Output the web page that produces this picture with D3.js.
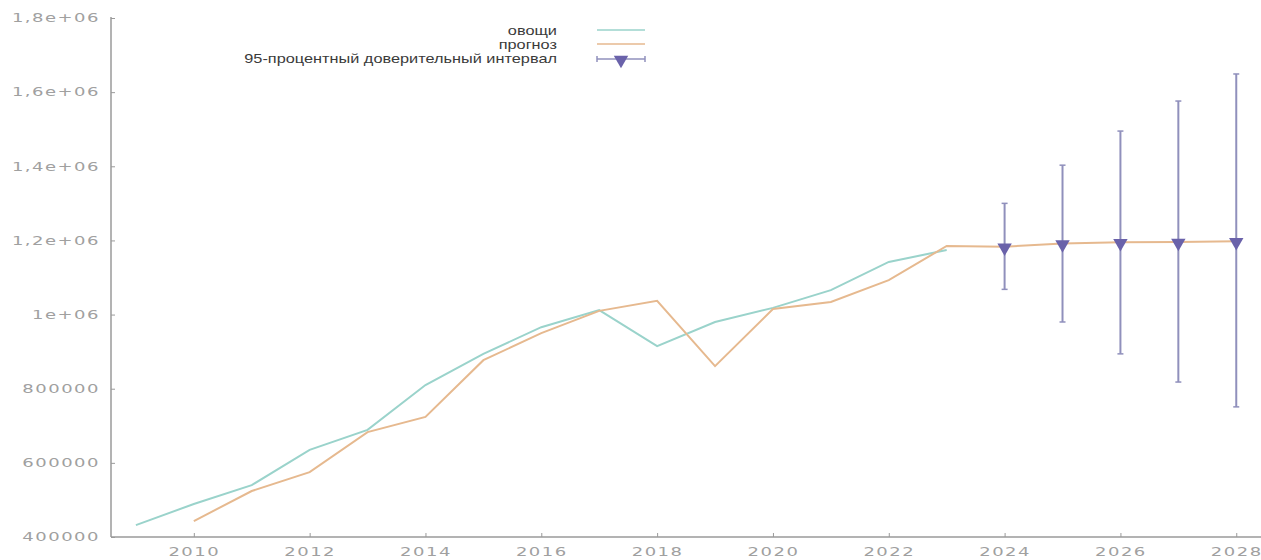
<!DOCTYPE html>
<html>

<head>
    <title>Forecast</title>
    <script src="https://cdn.jsdelivr.net/npm/d3@7"></script>
    <style>
        body { margin: 0; background: #fff; }
    </style>
</head>

<body>
    <svg width="1261" height="560" id="mainsvg"></svg>
    <script>
        // observed series (овощи)
        const obsYears = [2009, 2010, 2011, 2012, 2013, 2014, 2015, 2016, 2017, 2018, 2019, 2020, 2021, 2022, 2023];
        const obsValues = [432000, 489000, 540000, 635000, 689000, 810000, 894000, 966000, 1012000, 915000, 980000, 1018000, 1066000, 1142000, 1174000];

        // fitted + forecast (прогноз)
        const fcYears = [2010, 2011, 2012, 2013, 2014, 2015, 2016, 2017, 2018, 2019, 2020, 2021, 2022, 2023, 2024, 2025, 2026, 2027, 2028];
        const fcValues = [443000, 524000, 575000, 683000, 724000, 877000, 950000, 1010000, 1037000, 861000, 1015000, 1034000, 1093000, 1185000, 1183000, 1192000, 1195000, 1196000, 1198000];

        // 95% interval
        const ciYears = [2024, 2025, 2026, 2027, 2028];
        const ciLow = [1068000, 980000, 894000, 818000, 751000];
        const ciHigh = [1300000, 1403000, 1495000, 1576000, 1649000];

        const yTicks = [400000, 600000, 800000, 1000000, 1200000, 1400000, 1600000, 1800000];
        const yTickLabels = ['400000', '600000', '800000', '1e+06', '1,2e+06', '1,4e+06', '1,6e+06', '1,8e+06'];
        const xTicks = [2010, 2012, 2014, 2016, 2018, 2020, 2022, 2024, 2026, 2028];

        const legendLabels = ['овощи', 'прогноз', '95-процентный доверительный интервал'];

        const svg = d3.select('#mainsvg');
        const axisColor = '#9a9a9a';
        const blue = '#9ad3cb';
        const orange = '#e6b98f';
        const barColor = '#9090bc';
        const markColor = '#6a62aa';
        const stretch = 1.5; // the original looks stretched sideways

        const xScale = d3.scaleLinear().domain([2008.57, 2028.6]).range([111, 1271]);
        const yScale = d3.scaleLinear().domain([400000, 1800000]).range([537, 18]);

        // axes
        const yAxis = d3.axisLeft(yScale).tickValues(yTicks)
            .tickFormat((d, i) => yTickLabels[i]).tickSize(-4);
        const yg = svg.append('g').attr('transform', 'translate(111,0)').call(yAxis);

        const xAxis = d3.axisBottom(xScale).tickValues(xTicks)
            .tickFormat(d3.format('d')).tickSize(-4);
        const xg = svg.append('g').attr('transform', 'translate(0,537)').call(xAxis);

        [yg, xg].forEach(g => {
            g.select('.domain').attr('stroke', axisColor).attr('stroke-width', 1.5);
            g.selectAll('.tick line').attr('stroke', axisColor);
            g.selectAll('.tick text')
                .attr('fill', '#a0a0a0')
                .attr('font-family', 'DejaVu Sans')
                .attr('font-size', 12)
                .attr('letter-spacing', 1)
                .attr('transform', `scale(${stretch},1)`);
        });
        yg.selectAll('.tick text').attr('x', -11 / stretch);
        xg.selectAll('.tick text').attr('y', 10);
        yg.select('.domain').attr('d', 'M0,17V537');
        xg.select('.domain').attr('d', 'M111,0H1271');

        const line = d3.line()
            .x(d => xScale(d[0]))
            .y(d => yScale(d[1]));

        svg.append('path')
            .datum(obsYears.map((y, i) => [y, obsValues[i]]))
            .attr('fill', 'none')
            .attr('stroke', blue)
            .attr('stroke-width', 2)
            .attr('d', line);

        svg.append('path')
            .datum(fcYears.map((y, i) => [y, fcValues[i]]))
            .attr('fill', 'none')
            .attr('stroke', orange)
            .attr('stroke-width', 2)
            .attr('d', line);

        // error bars
        const ci = ciYears.map((y, i) => ({ year: y, lo: ciLow[i], hi: ciHigh[i], mid: fcValues[fcYears.indexOf(y)] }));
        const bars = svg.append('g');
        bars.selectAll('.bar').data(ci).enter().append('line')
            .attr('x1', d => xScale(d.year)).attr('x2', d => xScale(d.year))
            .attr('y1', d => yScale(d.lo)).attr('y2', d => yScale(d.hi))
            .attr('stroke', barColor).attr('stroke-width', 2);
        ['lo', 'hi'].forEach(k => {
            bars.selectAll('.cap' + k).data(ci).enter().append('line')
                .attr('x1', d => xScale(d.year) - 3).attr('x2', d => xScale(d.year) + 3)
                .attr('y1', d => yScale(d[k])).attr('y2', d => yScale(d[k]))
                .attr('stroke', barColor).attr('stroke-width', 1.5);
        });
        const tri = d3.symbol().type(d3.symbolTriangle).size(90);
        bars.selectAll('.mark').data(ci).enter().append('path')
            .attr('d', tri)
            .attr('transform', d => `translate(${xScale(d.year)},${yScale(d.mid) + 1}) rotate(180)`)
            .attr('fill', markColor);

        // legend
        const lg = svg.append('g');
        const ls = 1.36;
        legendLabels.forEach((t, i) => {
            const y = 31 + i * 14;
            lg.append('text')
                .attr('x', 557 / ls).attr('y', y + 4)
                .attr('transform', `scale(${ls},1)`)
                .attr('text-anchor', 'end')
                .attr('font-family', 'Liberation Sans, Arial')
                .attr('font-size', 12)
                .attr('fill', '#3a3a3a')
                .text(t);
        });
        lg.append('line').attr('x1', 597).attr('x2', 645).attr('y1', 30).attr('y2', 30)
            .attr('stroke', blue).attr('stroke-width', 1.5);
        lg.append('line').attr('x1', 597).attr('x2', 645).attr('y1', 44).attr('y2', 44)
            .attr('stroke', orange).attr('stroke-width', 1.5);
        lg.append('line').attr('x1', 597).attr('x2', 645).attr('y1', 59).attr('y2', 59)
            .attr('stroke', barColor).attr('stroke-width', 1.5);
        [597, 645].forEach(x => {
            lg.append('line').attr('x1', x).attr('x2', x).attr('y1', 56).attr('y2', 62)
                .attr('stroke', barColor).attr('stroke-width', 1.5);
        });
        lg.append('path').attr('d', tri)
            .attr('transform', 'translate(621,60) rotate(180)')
            .attr('fill', markColor);
    </script>
</body>

</html>
